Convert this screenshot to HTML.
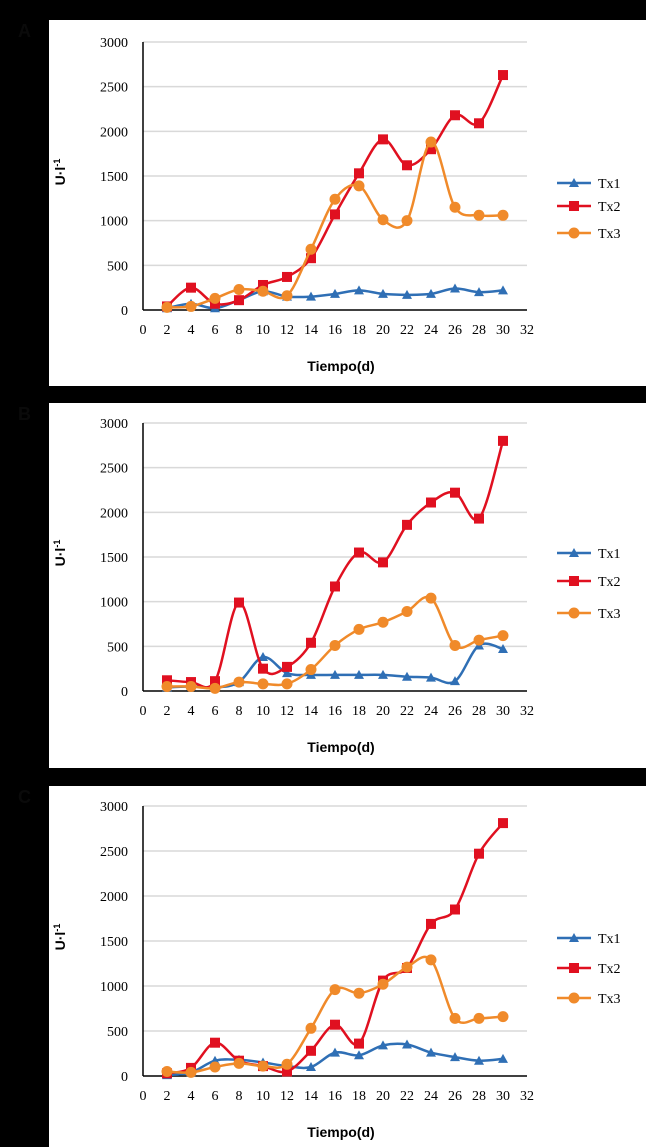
<!DOCTYPE html>
<html><head><meta charset="utf-8"><style>
html,body{margin:0;padding:0;background:#000;}
svg{display:block;}
</style></head><body>
<svg id="fig" width="646" height="1147" viewBox="0 0 646 1147" xmlns="http://www.w3.org/2000/svg"></svg>
<script>
const days = [2,4,6,8,10,12,14,16,18,20,22,24,26,28,30];
const xTicks = [0,2,4,6,8,10,12,14,16,18,20,22,24,26,28,30,32];
const yTicks = [0,500,1000,1500,2000,2500,3000];
const seriesNames = ["Tx1","Tx2","Tx3"];
const aTx1 = [20,70,20,110,210,150,150,180,220,180,170,180,240,200,220];
const aTx2 = [40,250,70,110,280,370,580,1070,1530,1910,1620,1800,2180,2090,2630];
const aTx3 = [30,40,130,230,210,160,680,1240,1390,1010,1000,1880,1150,1060,1060];
const bTx1 = [40,50,40,100,380,200,180,180,180,180,160,150,110,510,470];
const bTx2 = [120,100,110,990,250,270,540,1170,1550,1440,1860,2110,2220,1930,2800];
const bTx3 = [50,50,30,100,80,80,240,510,690,770,890,1040,510,570,620];
const cTx1 = [10,40,170,180,150,110,100,260,230,340,350,260,210,170,190];
const cTx2 = [30,90,370,170,110,50,280,570,360,1060,1200,1690,1850,2470,2810];
const cTx3 = [50,40,100,140,110,130,530,960,920,1020,1210,1290,640,640,660];

const colors = ["#2f6fb5","#e01020","#f08a2a"];
const NS = "http://www.w3.org/2000/svg";
const svg = document.getElementById("fig");
function mk(tag, attrs, parent){
  const e = document.createElementNS(NS, tag);
  for (const k in attrs) e.setAttribute(k, attrs[k]);
  (parent||svg).appendChild(e); return e;
}
const panels = [
  {id:"a", label:"A", top:20, bottom:386, y0:310, y3000:42, data:[aTx1,aTx2,aTx3], leg:[183,206,233]},
  {id:"b", label:"B", top:403, bottom:768, y0:691, y3000:423, data:[bTx1,bTx2,bTx3], leg:[553,581,613]},
  {id:"c", label:"C", top:786, bottom:1147, y0:1076, y3000:806, data:[cTx1,cTx2,cTx3], leg:[938,968,998]}
];
function smoothPath(pts){
  let d = "M"+pts[0][0]+","+pts[0][1];
  for (let i=0;i<pts.length-1;i++){
    const p0=pts[Math.max(i-1,0)], p1=pts[i], p2=pts[i+1], p3=pts[Math.min(i+2,pts.length-1)];
    const t=0.5/3*1.0;
    const c1=[p1[0]+(p2[0]-p0[0])*t, p1[1]+(p2[1]-p0[1])*t];
    const c2=[p2[0]-(p3[0]-p1[0])*t, p2[1]-(p3[1]-p1[1])*t];
    d+=" C"+c1[0]+","+c1[1]+" "+c2[0]+","+c2[1]+" "+p2[0]+","+p2[1];
  }
  return d;
}
function marker(g, k, x, y){
  let m;
  if (k===0) m = mk("polygon",{points:`${x},${y-5} ${x-5},${y+4} ${x+5},${y+4}`,fill:colors[0]},g);
  else if (k===1) m = mk("rect",{x:x-5,y:y-5,width:10,height:10,fill:colors[1]},g);
  else m = mk("circle",{cx:x,cy:y,r:5.5,fill:colors[2]},g);
  return m;
}
panels.forEach(p=>{
  const g = mk("g",{});
  
  
  const bg = mk("rect",{x:49,y:p.top,width:597,height:p.bottom-p.top,fill:"#fff"},g);
  
  
  const X = v => 143 + v*12;
  const Y = v => p.y0 - v*(p.y0-p.y3000)/3000;
  yTicks.forEach(t=>{
    if (t>0){
      const gl = mk("line",{x1:143,x2:527,y1:Y(t),y2:Y(t),stroke:"#d9d9d9","stroke-width":1.5},g);
      
      
    }
    const tl = mk("text",{x:128,y:Y(t)+5,"text-anchor":"end","font-family":"Liberation Serif, serif","font-size":14,fill:"#000"},g);
    tl.textContent = t;
    
    
  });
  xTicks.forEach(t=>{
    const tl = mk("text",{x:X(t),y:p.y0+24,"text-anchor":"middle","font-family":"Liberation Serif, serif","font-size":14,fill:"#000"},g);
    tl.textContent = t;
    
    
  });
  const ya = mk("line",{x1:143,x2:143,y1:p.y3000,y2:p.y0,stroke:"#000","stroke-width":1.5},g);
  
  
  const xa = mk("line",{x1:143,x2:527,y1:p.y0,y2:p.y0,stroke:"#000","stroke-width":1.5},g);
  
  
  p.data.forEach((arr,k)=>{
    const pts = days.map((d,i)=>[X(d),Y(arr[i])]);
    const path = mk("path",{d:smoothPath(pts),fill:"none",stroke:colors[k],"stroke-width":2.5},g);
    
    
    pts.forEach(q=>{
      const m = marker(g,k,q[0],q[1]);
      
      
    });
    const ly = p.leg[k];
    const ll = mk("line",{x1:557,x2:591,y1:ly,y2:ly,stroke:colors[k],"stroke-width":2.5},g);
    
    
    const lm = marker(g,k,574,ly);
    
    
    const lt = mk("text",{x:598,y:ly+5,"font-family":"Liberation Serif, serif","font-size":14,fill:"#000"},g);
    lt.textContent = seriesNames[k];
    
    
  });
  const xt = mk("text",{x:341,y:p.y0+61,"text-anchor":"middle","font-family":"Liberation Sans, sans-serif","font-size":14,"font-weight":"bold",fill:"#000"},g);
  xt.textContent = "Tiempo(d)";
  
  
  const cy = (p.y0+p.y3000)/2 - 4;
  const yt = mk("text",{x:0,y:0,transform:`translate(65,${cy}) rotate(-90)`,"text-anchor":"middle","font-family":"Liberation Sans, sans-serif","font-size":14,"font-weight":"bold",fill:"#000"},g);
  yt.innerHTML = 'U·l<tspan dy="-5" font-size="9">-1</tspan>';
  
  
  const pl = mk("text",{x:18,y:p.top+17,"font-family":"Liberation Sans, sans-serif","font-size":18,"font-weight":"bold",fill:"#0a0a0a"},g);
  pl.textContent = p.label;
  
  
});
</script>
</body></html>
